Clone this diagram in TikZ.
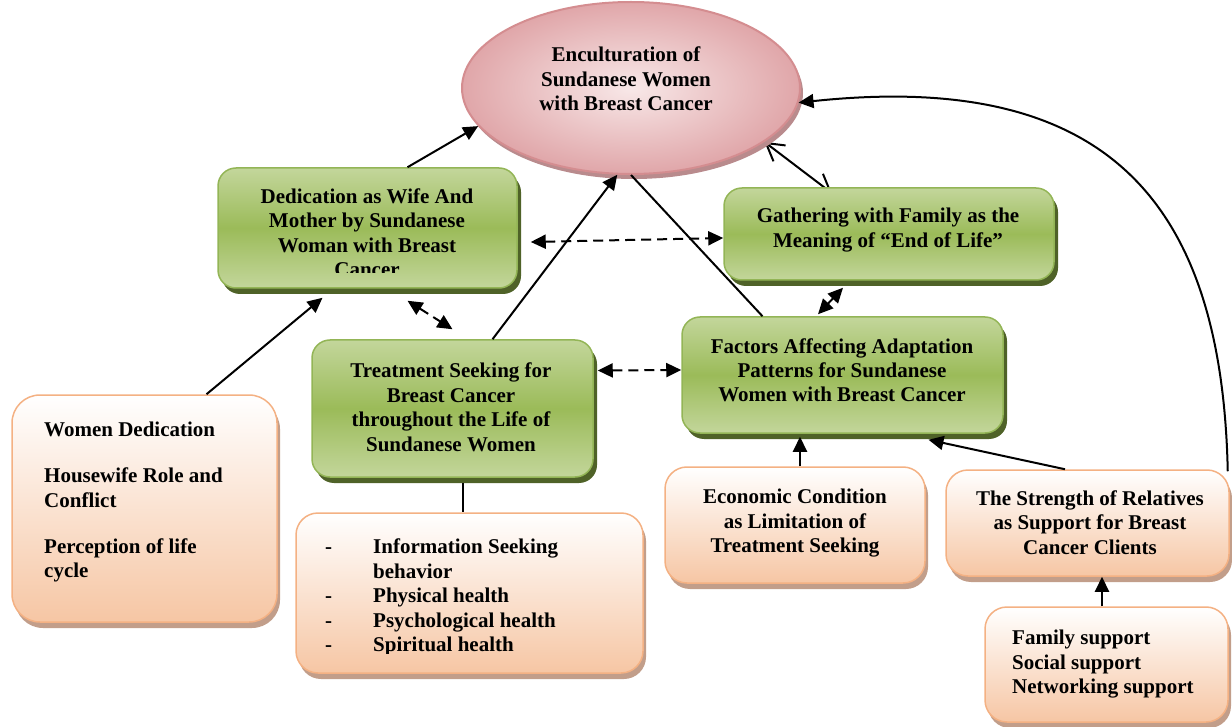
\documentclass[tikz,border=0pt]{standalone}
\usepackage{fontspec}
\setmainfont{Liberation Serif}
\usetikzlibrary{shapes.geometric,shadows,arrows.meta,calc}
\definecolor{gtop}{HTML}{C3D69B}
\definecolor{gmid}{HTML}{9BBB59}
\definecolor{gline}{HTML}{93B556}
\definecolor{gshadow}{HTML}{4F6228}
\definecolor{pbot}{HTML}{F6C6A4}
\definecolor{pline}{HTML}{F4B183}
\definecolor{pshadow}{HTML}{C29E8A}
\definecolor{eouter}{HTML}{E0A6A9}
\definecolor{einner}{HTML}{F8E8E8}
\definecolor{eline}{HTML}{D48D90}
\definecolor{eshadow}{HTML}{B98B8D}
\pgfdeclarelayer{background}
\pgfsetlayers{background,main}
\begin{document}
\begin{tikzpicture}[x=1pt,y=-1pt,
 gbox/.style={rectangle, rounded corners=18pt, draw=gline, line width=1.5pt,
   top color=gtop, bottom color=gtop, middle color=gmid,
   drop shadow={shadow xshift=4pt,shadow yshift=-6pt,fill=gshadow,opacity=1}, inner sep=0pt},
 pbox/.style={rectangle, rounded corners=22pt, draw=pline, line width=1.5pt,
   top color=white, bottom color=pbot,
   drop shadow={shadow xshift=3pt,shadow yshift=-6pt,fill=pshadow,opacity=1}, inner sep=0pt},
 txt/.style={font=\fontsize{21}{24.5}\selectfont\bfseries, inner sep=0pt},
 arr/.style={line width=2pt, -{Triangle[length=15pt,width=14pt]}},
 darr/.style={line width=2pt, dash pattern=on 10pt off 6pt,
   {Triangle[length=15pt,width=14pt]}-{Triangle[length=15pt,width=14pt]}},
 barr/.style={line width=2pt,
   {Straight Barb[length=17pt,width=20pt]}-{Straight Barb[length=17pt,width=20pt]}},
]
\useasboundingbox (0,0) rectangle (1232,727);

% ellipse
\node[ellipse, minimum width=338pt, minimum height=172pt, draw=eline, line width=2pt,
  inner color=einner, outer color=eouter,
  drop shadow={shadow xshift=3pt,shadow yshift=-5pt,fill=eshadow,opacity=1}] (enc) at (631,88) {};
\node[txt] (enct) at (626,81.6) {\begin{tabular}{@{}c@{}}Enculturation of\\Sundanese Women\\with Breast Cancer\end{tabular}};

% green boxes
\node[gbox, minimum width=299pt, minimum height=120pt] (dedic) at (367.5,228) {};
\node[gbox, minimum width=330pt, minimum height=92pt] (gath) at (889,234) {};
\node[gbox, minimum width=281pt, minimum height=137pt] (treat) at (452.5,408.5) {};
\node[gbox, minimum width=321pt, minimum height=116pt] (fact) at (842.5,375) {};

% peach boxes
\node[pbox, rounded corners=28pt, minimum width=265pt, minimum height=227pt] (women) at (144.5,508.5) {};
\node[pbox, minimum width=347pt, minimum height=160pt] (info) at (469.5,593) {};
\node[pbox, minimum width=260pt, minimum height=116pt] (econ) at (795,525) {};
\node[pbox, minimum width=283pt, minimum height=106pt] (stren) at (1087.5,523) {};
\node[pbox, minimum width=243pt, minimum height=115pt] (fam) at (1106.5,664.5) {};

% texts
\begin{scope}
\clip (200,150) rectangle (540,273);
\node[txt] (dedt) at (367,235.1) {\begin{tabular}{@{}c@{}}Dedication as Wife And\\Mother by Sundanese\\Woman with Breast\\Cancer\end{tabular}};
\end{scope}
\node[txt] (gatht) at (888,230.1) {\begin{tabular}{@{}c@{}}Gathering with Family as the\\Meaning of “End of Life”\end{tabular}};
\node[txt] (treatt) at (451,409.6) {\begin{tabular}{@{}c@{}}Treatment Seeking for\\Breast Cancer\\throughout the Life of\\Sundanese Women\end{tabular}};
\node[txt] (factt) at (842,372.6) {\begin{tabular}{@{}c@{}}Factors Affecting Adaptation\\Patterns for Sundanese\\Women with Breast Cancer\end{tabular}};
\node[txt, anchor=west] (womt) at (44,502.1) {\begin{tabular}{@{}l@{}}Women Dedication\\[21.5pt]Housewife Role and\\Conflict\\[21.5pt]Perception of life\\cycle\end{tabular}};
\begin{scope}
\clip (280,500) rectangle (660,653);
\node[txt, anchor=west] (infot) at (325,597.6) {\begin{tabular}{@{}p{48pt}@{}l@{}}-&Information Seeking\\&behavior\\-&Physical health\\-&Psychological health\\-&Spiritual health\end{tabular}};
\end{scope}
\node[txt] (econt) at (795,523.1) {\begin{tabular}{@{}c@{}}Economic Condition\\as Limitation of\\Treatment Seeking\end{tabular}};
\node[txt] (strent) at (1090,524.6) {\begin{tabular}{@{}c@{}}The Strength of Relatives\\as Support for Breast\\Cancer Clients\end{tabular}};
\node[txt, anchor=west] (famt) at (1012,664.1) {\begin{tabular}{@{}l@{}}Family support\\Social support\\Networking support\end{tabular}};

% connectors
\begin{pgfonlayer}{background}
\draw[barr] (enc.338.5) -- ([xshift=-57pt,yshift=-6pt]gath.north);
\end{pgfonlayer}
\draw[arr] ([xshift=40pt]dedic.north) -- (enc.194);
\draw[arr] ([xshift=62pt]women.north) -- ([xshift=-45pt,yshift=-9pt]dedic.south);
\draw[arr] ([xshift=40pt]treat.north) -- (enc.261.5);
\draw[line width=2pt] ([xshift=-80pt]fact.north) -- (enc.270);
\draw[darr] ([xshift=13pt,yshift=-14pt]dedic.east) -- ([yshift=-4pt]gath.west);
\draw[darr] ([xshift=40pt,yshift=-12pt]dedic.south) -- ([yshift=10pt]treat.north);
\draw[darr] ([xshift=4pt,yshift=38pt]treat.east) -- ([yshift=5pt]fact.west);
\draw[darr] ([xshift=-46pt,yshift=-7pt]gath.south) -- ([xshift=-24.5pt,yshift=2pt]fact.north);
\draw[line width=2pt] ([xshift=10.5pt,yshift=-5pt]treat.south) -- ([xshift=-6.5pt]info.north);
\draw[arr] ([xshift=5pt]econ.north) -- ([xshift=-42.5pt,yshift=-3pt]fact.south);
\draw[arr] ([xshift=-22.5pt]stren.north) -- ([xshift=86pt,yshift=-6pt]fact.south);
\draw[arr] ([xshift=-4.5pt]fam.north) -- ([xshift=14.5pt]stren.south);
\draw[arr] ([xshift=-2pt,yshift=-2pt]stren.north east) .. controls (1222,200) and (1106,70) .. (enc.355);
\end{tikzpicture}
\end{document}
